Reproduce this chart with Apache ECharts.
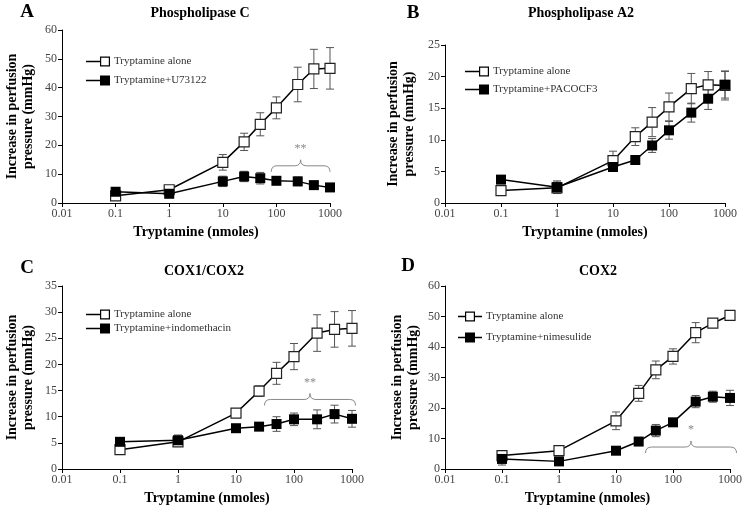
<!DOCTYPE html>
<html><head><meta charset="utf-8">
<script src="https://cdn.jsdelivr.net/npm/echarts@6/dist/echarts.min.js"></script>
<style>html,body{margin:0;padding:0;background:#fff}#c{width:745px;height:508px}</style>
</head><body><div id="c"></div>
<script>
// ---------- data ----------
const doses = [0.1, 1, 10, 25, 50, 100, 250, 500, 1000];
const xTicks = ['0.01', '0.1', '1', '10', '100', '1000'];

const aAlone    = [2.5, 4.6, 14.1, 21.2, 27.3, 33.0, 41.1, 46.5, 46.7];
const aAloneErr = [1.0, 0.8, 2.7, 3.0, 4.0, 3.8, 6.0, 6.8, 7.2];
const aDrug     = [3.9, 3.2, 7.5, 9.2, 8.6, 7.7, 7.5, 6.2, 5.4];
const aDrugErr  = [1.0, 0.8, 1.8, 1.8, 2.0, 1.3, 1.5, 1.0, 1.0];

const bAlone    = [1.96, 2.4, 6.7, 10.5, 12.8, 15.2, 18.1, 18.7, 18.6];
const bAloneErr = [0.7, 0.9, 1.5, 1.4, 2.3, 2.2, 2.4, 2.1, 2.3];
const bDrug     = [3.7, 2.5, 5.7, 6.8, 9.1, 11.5, 14.3, 16.5, 18.7];
const bDrugErr  = [0.6, 1.0, 0.7, 0.6, 1.1, 1.4, 1.5, 1.7, 2.1];

const cAlone    = [3.7, 5.2, 10.7, 14.9, 18.3, 21.5, 26.0, 26.7, 26.9];
const cAloneErr = [0.5, 0.8, 0.6, 1.0, 2.1, 2.5, 3.5, 3.4, 3.4];
const cDrug     = [5.2, 5.5, 7.8, 8.1, 8.6, 9.5, 9.5, 10.5, 9.6];
const cDrugErr  = [0.5, 1.0, 0.5, 0.7, 1.4, 1.2, 1.8, 1.7, 1.6];

const dAlone    = [4.4, 6.0, 15.8, 24.8, 32.5, 36.9, 44.7, 47.8, 50.4];
const dAloneErr = [1.5, 1.5, 2.9, 2.6, 2.9, 2.5, 3.3, 1.2, 0.8];
const dDrug     = [3.3, 2.5, 6.0, 9.0, 12.6, 15.3, 22.1, 23.7, 23.3];
const dDrugErr  = [2.0, 1.0, 0.8, 0.8, 2.0, 1.0, 2.0, 1.8, 2.5];

const seriesAlone = 'Tryptamine alone';
const drugNames = ['Tryptamine+U73122', 'Tryptamine+PACOCF3', 'Tryptamine+indomethacin', 'Tryptamine+nimesulide'];
const panelLetters = ['A', 'B', 'C', 'D'];
const panelTitles = ['Phospholipase C', 'Phospholipase A2', 'COX1/COX2', 'COX2'];
const yMax = [60, 25, 35, 60];
const yStep = [10, 5, 5, 10];
const xName = 'Tryptamine (nmoles)';
const yName = 'Increase in perfusion\npressure (mmHg)';

// significance braces: [from dose, to dose, level]
const braceA = [80, 1000, 12.9];
const braceC = [31, 1150, 13.3];
const braceD = [33, 1300, 7.2];
const braceMarks = ['**', '**', '*'];

// ---------- layout / style ----------
const F = '"Liberation Serif", "Times New Roman", serif';
const grids = [
  {left: 62, top: 30, width: 268, height: 173},
  {left: 445, top: 45, width: 280, height: 158},
  {left: 62, top: 286, width: 290, height: 183},
  {left: 445, top: 286, width: 287, height: 183}
];
const letterPos = [[27, 3], [413, 4], [27, 259], [408, 257]];
const titlePos = [[200, 6], [581, 6], [204, 264], [598, 264]];
const yNameGap = [26, 28, 26, 24];
const legendPos = [[86, 56, 8], [465, 66, 7], [86, 309, 3], [458, 311, 10]];

const panels = [
  [aAlone, aAloneErr, aDrug, aDrugErr],
  [bAlone, bAloneErr, bDrug, bDrugErr],
  [cAlone, cAloneErr, cDrug, cDrugErr],
  [dAlone, dAloneErr, dDrug, dDrugErr]
];

function xFmt(v) {
  const t = xTicks.find(s => Math.abs(Math.log10(+s) - Math.log10(v)) < 1e-6);
  return t || '';
}

function errRender(params, api) {
  const x = api.value(0), y = api.value(1), e = api.value(2);
  const top = api.coord([x, y + e]);
  const bot = api.coord([x, Math.max(y - e, 0)]);
  const w = 4;
  const st = {stroke: '#555', lineWidth: 1};
  return {type: 'group', children: [
    {type: 'line', shape: {x1: top[0], y1: top[1], x2: bot[0], y2: bot[1]}, style: st},
    {type: 'line', shape: {x1: top[0] - w, y1: top[1], x2: top[0] + w, y2: top[1]}, style: st},
    {type: 'line', shape: {x1: bot[0] - w, y1: bot[1], x2: bot[0] + w, y2: bot[1]}, style: st}
  ]};
}

function braceRender(mark) {
  return function (params, api) {
    const x0 = api.value(0), x1 = api.value(1), y = api.value(2);
    const p0 = api.coord([x0, y]), p1 = api.coord([x1, y]);
    const pm = api.coord([Math.sqrt(x0 * x1), y]);
    const d = 6, r = 6, h = 6;
    const Y = p0[1];
    const path = 'M' + p0[0] + ' ' + (Y + d) +
      ' Q' + p0[0] + ' ' + Y + ' ' + (p0[0] + r) + ' ' + Y +
      ' L' + (pm[0] - r) + ' ' + Y +
      ' Q' + pm[0] + ' ' + Y + ' ' + pm[0] + ' ' + (Y - h) +
      ' Q' + pm[0] + ' ' + Y + ' ' + (pm[0] + r) + ' ' + Y +
      ' L' + (p1[0] - r) + ' ' + Y +
      ' Q' + p1[0] + ' ' + Y + ' ' + p1[0] + ' ' + (Y + d);
    return {type: 'group', children: [
      {type: 'path', shape: {pathData: path}, style: {fill: null, stroke: '#888', lineWidth: 1}},
      {type: 'text', x: pm[0], y: Y - 17, style: {text: mark, fill: '#888', font: '12px ' + F, align: 'center', verticalAlign: 'middle'}}
    ]};
  };
}

// legend icons (24 x 10)
function iconPath(sq0, open) {
  const sq1 = sq0 + 10;
  let p = 'path://';
  if (sq0 > 0) p += 'M0,4.25L' + sq0 + ',4.25L' + sq0 + ',5.75L0,5.75Z';
  if (sq1 < 24) p += 'M' + sq1 + ',4.25L24,4.25L24,5.75L' + sq1 + ',5.75Z';
  p += 'M' + sq0 + ',0L' + sq1 + ',0L' + sq1 + ',10L' + sq0 + ',10Z';
  if (open) p += 'M' + (sq0 + 1.2) + ',1.2L' + (sq0 + 1.2) + ',8.8L' + (sq1 - 1.2) + ',8.8L' + (sq1 - 1.2) + ',1.2Z';
  return p;
}
const iconSq = [14, 14, 14, 7];

const option = {
  backgroundColor: '#fff',
  animation: false,
  title: [],
  legend: [],
  grid: grids,
  xAxis: [],
  yAxis: [],
  series: []
};

for (let i = 0; i < 4; i++) {
  option.title.push({text: panelLetters[i], left: letterPos[i][0], top: letterPos[i][1], textAlign: 'center', padding: 0,
    textStyle: {fontFamily: F, fontWeight: 'bold', fontSize: 19, color: '#000'}});
  option.title.push({text: panelTitles[i], left: titlePos[i][0], top: titlePos[i][1], textAlign: 'center', padding: 0,
    textStyle: {fontFamily: F, fontWeight: 'bold', fontSize: 14, color: '#000'}});

  option.xAxis.push({
    type: 'log', logBase: 10, min: 0.01, max: 1000, gridIndex: i,
    name: xName, nameLocation: 'middle', nameGap: 22,
    nameTextStyle: {fontFamily: F, fontWeight: 'bold', fontSize: 14, color: '#000'},
    axisLine: {show: true, onZero: false, lineStyle: {color: '#000', width: 1}},
    axisTick: {show: true, length: 4, lineStyle: {color: '#000'}},
    minorTick: {show: false},
    axisLabel: {fontFamily: F, fontSize: 12, color: '#444', margin: 5, formatter: xFmt},
    splitLine: {show: false}
  });
  option.yAxis.push({
    type: 'value', min: 0, max: yMax[i], interval: yStep[i], gridIndex: i,
    name: yName, nameLocation: 'middle', nameGap: yNameGap[i], nameRotate: 90,
    nameTextStyle: {fontFamily: F, fontWeight: 'bold', fontSize: 14, color: '#000', lineHeight: 16},
    axisLine: {show: true, onZero: false, lineStyle: {color: '#000', width: 1}},
    axisTick: {show: true, length: 4, lineStyle: {color: '#000'}},
    axisLabel: {fontFamily: F, fontSize: 12, color: '#444', margin: 5},
    splitLine: {show: false}
  });

  const [al, alE, dr, drE] = panels[i];
  option.series.push({type: 'custom', name: 'err-alone-' + i, xAxisIndex: i, yAxisIndex: i, z: 1,
    encode: {x: 0, y: 1}, renderItem: errRender, data: doses.map((d, k) => [d, al[k], alE[k]])});
  option.series.push({type: 'custom', name: 'err-drug-' + i, xAxisIndex: i, yAxisIndex: i, z: 1,
    encode: {x: 0, y: 1}, renderItem: errRender, data: doses.map((d, k) => [d, dr[k], drE[k]])});
  option.series.push({type: 'line', name: seriesAlone, xAxisIndex: i, yAxisIndex: i, z: 3,
    data: doses.map((d, k) => [d, al[k]]), symbol: 'rect', symbolSize: 10,
    lineStyle: {color: '#000', width: 1.5},
    itemStyle: {color: '#fff', borderColor: '#222', borderWidth: 1.2}});
  option.series.push({type: 'line', name: drugNames[i], xAxisIndex: i, yAxisIndex: i, z: 4,
    data: doses.map((d, k) => [d, dr[k]]), symbol: 'rect', symbolSize: 10,
    lineStyle: {color: '#000', width: 1.5},
    itemStyle: {color: '#000', borderColor: '#000', borderWidth: 0}});

  option.legend.push({
    orient: 'vertical', left: legendPos[i][0], top: legendPos[i][1], itemGap: legendPos[i][2],
    itemWidth: 24, itemHeight: 10, padding: 0, selectedMode: false,
    textStyle: {fontFamily: F, fontSize: 11, color: '#333', padding: [0, 0, 0, -1]},
    data: [
      {name: seriesAlone, icon: iconPath(iconSq[i], true), itemStyle: {color: '#000', borderWidth: 0}},
      {name: drugNames[i], icon: iconPath(iconSq[i], false), itemStyle: {color: '#000', borderWidth: 0}}
    ]
  });
}

const braces = [[0, braceA, braceMarks[0]], [2, braceC, braceMarks[1]], [3, braceD, braceMarks[2]]];
braces.forEach(([gi, br, mk]) => {
  option.series.push({type: 'custom', name: 'brace-' + gi, xAxisIndex: gi, yAxisIndex: gi, z: 2,
    encode: {x: [0, 1], y: 2}, renderItem: braceRender(mk), data: [br]});
});

const chart = echarts.init(document.getElementById('c'), null, {renderer: 'canvas'});
chart.setOption(option);
</script>
</body></html>
